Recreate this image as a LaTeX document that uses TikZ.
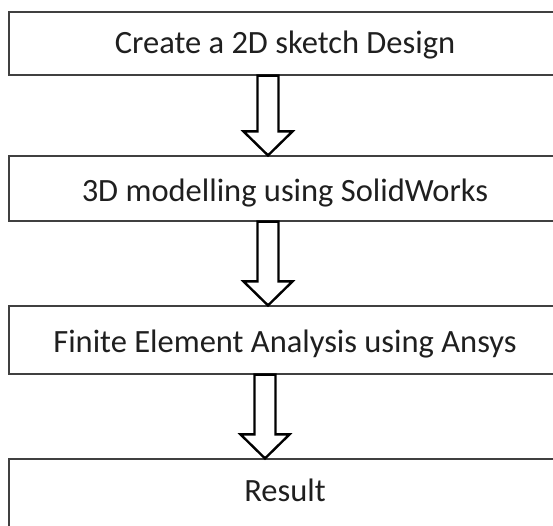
\documentclass[tikz,border=0pt]{standalone}
\usepackage{fontspec}
\setmainfont{Carlito}
\usetikzlibrary{calc}
\tikzset{
  boxnode/.style={draw=black!75, line width=1.2pt, rectangle, inner sep=0pt,
    minimum width=552pt, font=\fontsize{32.5}{32.5}\selectfont, text=black!88,
    text depth=0pt},
  blockarr/.style={draw=black, line width=2.4pt, fill=white, line join=miter}
}
\newcommand\myblockarrow[2]{%
  \draw[blockarr] let \p1=(#1), \p2=(#2) in
    (\x1-10.5pt,\y1) -- (\x1-10.5pt,\y2+24pt) -- (\x1-24.5pt,\y2+24pt) --
    (\x1,\y2) -- (\x1+24.5pt,\y2+24pt) -- (\x1+10.5pt,\y2+24pt) --
    (\x1+10.5pt,\y1) -- cycle;}
\begin{document}
\begin{tikzpicture}[x=1pt,y=-1pt]
\useasboundingbox (0,0) rectangle (553,525);
\clip (0,0) rectangle (553,525);
\fill[white] (0,0) rectangle (553,525);
\node[boxnode, minimum height=63pt, text height=20.9pt] (b1) at (285,43.5) {Create a 2D sketch Design};
\node[boxnode, minimum height=65pt, text height=25.9pt] (b2) at (285,188.5) {3D modelling using SolidWorks};
\node[boxnode, minimum height=68pt, text height=25.9pt] (b3) at (285,340) {Finite Element Analysis using Ansys};
\node[boxnode, minimum height=71pt, text height=14.9pt] (b4) at (285,494.5) {Result};
\path (b1.south) ++(-17,0) coordinate (a1s);
\path (b2.north) ++(-17,0) coordinate (a1e);
\path (b2.south) ++(-17,0) coordinate (a2s);
\path (b3.north) ++(-17,0) coordinate (a2e);
\path (b3.south) ++(-20,0) coordinate (a3s);
\path (b4.north) ++(-20,0) coordinate (a3e);
\myblockarrow{a1s}{a1e}
\myblockarrow{a2s}{a2e}
\myblockarrow{a3s}{a3e}
\end{tikzpicture}
\end{document}
